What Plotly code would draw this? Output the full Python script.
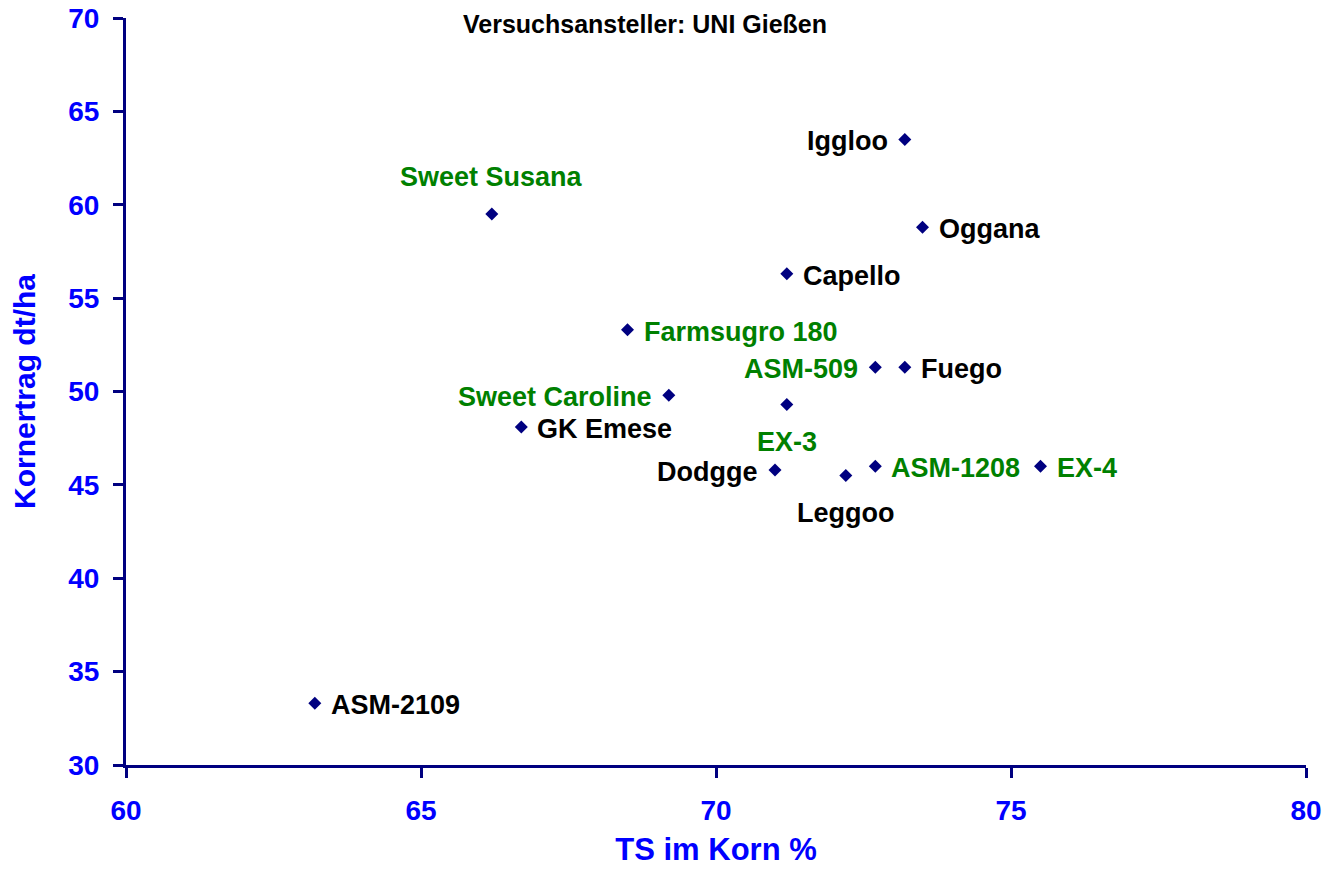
import plotly.graph_objects as go

# Data
names = ["Iggloo", "Oggana", "Sweet Susana", "Capello", "Farmsugro 180", "ASM-509",
         "Fuego", "Sweet Caroline", "EX-3", "GK Emese", "Dodgge", "Leggoo",
         "ASM-1208", "EX-4", "ASM-2109"]
ts_korn = [73.2, 73.5, 66.2, 71.2, 68.5, 72.7, 73.2, 69.2, 71.2, 66.7, 71.0, 72.2, 72.7, 75.5, 63.2]
kornertrag = [63.5, 58.8, 59.5, 56.3, 53.3, 51.3, 51.3, 49.8, 49.3, 48.1, 45.8, 45.5, 46.0, 46.0, 33.3]
label_group = ["black", "black", "green", "black", "green", "green", "black", "green",
               "green", "black", "black", "black", "green", "green", "black"]
label_side = ["left", "right", "above", "right", "right", "left", "right", "left",
              "below", "right", "left", "below", "right", "right", "right"]

x_ticks = [60, 65, 70, 75, 80]
y_ticks = [30, 35, 40, 45, 50, 55, 60, 65, 70]

NAVY = "#000080"
BLUE = "#0000FF"
GREEN = "#008000"
FONT = "Arial, Liberation Sans, sans-serif"
LABEL_SIZE = 27

fig = go.Figure()
fig.add_trace(go.Scatter(
    x=ts_korn, y=kornertrag, mode="markers",
    marker=dict(symbol="diamond", size=10, color=NAVY),
    hoverinfo="text", text=names, showlegend=False,
))

side_cfg = {
    "left": dict(xanchor="right", yanchor="middle", xshift=-15, yshift=-2),
    "right": dict(xanchor="left", yanchor="middle", xshift=14, yshift=-2),
    "above": dict(xanchor="center", yanchor="middle", xshift=0, yshift=37),
    "below": dict(xanchor="center", yanchor="middle", xshift=0, yshift=-37),
}
for n, xv, yv, g, s in zip(names, ts_korn, kornertrag, label_group, label_side):
    fig.add_annotation(
        x=xv, y=yv, xref="x", yref="y", text=n, showarrow=False,
        font=dict(family=FONT, size=LABEL_SIZE, weight="bold",
                  color=GREEN if g == "green" else "#000000"),
        **side_cfg[s],
    )

fig.add_annotation(
    x=0.44, y=1.0, xref="paper", yref="paper", yshift=10,
    text="Versuchsansteller: UNI Gießen",
    showarrow=False, xanchor="center", yanchor="top",
    font=dict(family=FONT, size=25, weight="bold", color="#000000"),
)

axis_common = dict(
    showline=True, linecolor=NAVY, linewidth=3, showgrid=False, zeroline=False,
    ticks="outside", ticklen=10, tickwidth=3, tickcolor=NAVY,
    ticklabeloverflow="allow",
    tickfont=dict(family=FONT, size=28, weight="bold", color=BLUE),
)

fig.update_xaxes(
    range=[60, 80], tickvals=x_ticks, ticktext=[str(v) for v in x_ticks],
    title_text="TS im Korn %", title_standoff=14, ticklabelstandoff=8,
    title_font=dict(family=FONT, size=31, weight="bold", color=BLUE),
    **axis_common,
)
fig.update_yaxes(
    range=[30, 70], tickvals=y_ticks, ticktext=[str(v) for v in y_ticks],
    title_text="Kornertrag dt/ha", title_standoff=38, ticklabelstandoff=8,
    title_font=dict(family=FONT, size=30, weight="bold", color=BLUE),
    **axis_common,
)

fig.update_layout(
    width=1322, height=878,
    margin=dict(l=118, r=24, t=10, b=121, autoexpand=False),
    paper_bgcolor="white", plot_bgcolor="white",
    font=dict(family=FONT),
)

fig.write_html("out.html")
